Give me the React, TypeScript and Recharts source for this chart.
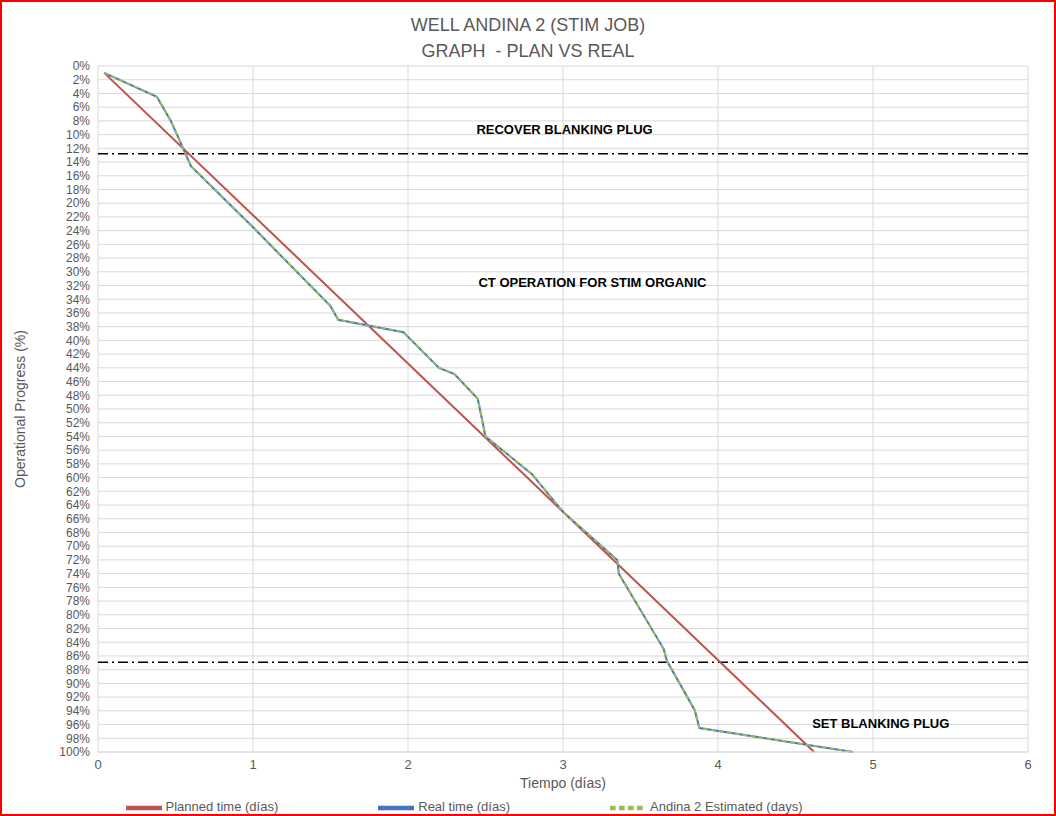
import React from 'react';
import { LineChart, Line, XAxis, YAxis, CartesianGrid, ReferenceLine, ReferenceDot, Legend } from 'recharts';

const plannedTime = [0.04, 4.62];
const plannedProgress = [1, 100];

const realTime = [0.04, 0.38, 0.47, 0.6, 1.0, 1.5, 1.55, 1.97, 2.2, 2.3, 2.45, 2.5, 2.8, 3.0, 3.35, 3.36, 3.65, 3.67, 3.85, 3.88, 4.87];
const realProgress = [1, 4.5, 8, 14.6, 23.5, 35, 37, 38.8, 44, 44.9, 48.5, 54, 59.5, 65, 72, 74, 85, 86.7, 93.9, 96.5, 100];

const yTicks = Array.from({ length: 51 }, (_, i) => i * 2);
const xTicks = [0, 1, 2, 3, 4, 5, 6];

const planned = plannedTime.map((t, i) => ({ t, v: plannedProgress[i] }));
const real = realTime.map((t, i) => ({ t, v: realProgress[i] }));

const font = '"Liberation Sans", Arial, sans-serif';

const noteLabel = (text: string) => ({
  value: text,
  position: 'center' as const,
  fill: '#000',
  fontSize: 13,
  fontWeight: 'bold',
});

export default function App() {
  return (
    <div style={{ position: 'absolute', left: 0, top: 0, width: 1056, height: 816, fontFamily: font, background: '#fff' }}>
      <div style={{ position: 'absolute', inset: 0, border: '2px solid #ff0000', boxSizing: 'border-box', pointerEvents: 'none', zIndex: 2 }} />
      <div style={{ position: 'absolute', top: 12, width: '100%', textAlign: 'center', color: '#595959', fontSize: 18, lineHeight: '26px' }}>
        WELL ANDINA 2 (STIM JOB)<br />GRAPH&nbsp; - PLAN VS REAL
      </div>
      <LineChart width={1056} height={816} margin={{ top: 66, right: 28, bottom: 0, left: 0 }} style={{ fontFamily: font }}>
        <CartesianGrid stroke="#d9d9d9" horizontalValues={yTicks} />
        <XAxis type="number" dataKey="t" domain={[0, 6]} ticks={xTicks} tick={{ fontSize: 13, fill: '#595959' }}
          axisLine={{ stroke: '#d9d9d9' }} tickLine={false} height={42}
          label={{ value: 'Tiempo (días)', position: 'insideTop', offset: 26, fontSize: 14, fill: '#595959' }} />
        <YAxis type="number" reversed domain={[0, 100]} ticks={yTicks} interval={0} width={98}
          tickFormatter={(v) => `${v}%`} tick={{ fontSize: 12, fill: '#595959' }} axisLine={false} tickLine={false}
          label={{ value: 'Operational Progress (%)', angle: -90, position: 'insideLeft', offset: 20, fontSize: 14, fill: '#595959', style: { textAnchor: 'middle' } }} />
        <ReferenceLine y={12.8} stroke="#000" strokeWidth={1.5} strokeDasharray="10 4 2 4" />
        <ReferenceLine y={86.9} stroke="#000" strokeWidth={1.5} strokeDasharray="10 4 2 4" />
        <ReferenceDot x={3.01} y={9.3} r={0} stroke="none" label={noteLabel('RECOVER BLANKING PLUG')} />
        <ReferenceDot x={3.19} y={31.5} r={0} stroke="none" label={noteLabel('CT OPERATION FOR STIM ORGANIC')} />
        <ReferenceDot x={5.05} y={95.8} r={0} stroke="none" label={noteLabel('SET BLANKING PLUG')} />
        <Line data={planned} dataKey="v" name="Planned time (días)" stroke="#c0504d" strokeWidth={2} dot={false} isAnimationActive={false} />
        <Line data={real} dataKey="v" name="Real time (días)" stroke="#4472c4" strokeWidth={2} dot={false} isAnimationActive={false} />
        <Line data={real} dataKey="v" name="Andina 2 Estimated (days)" stroke="#9bbb59" strokeWidth={2} strokeDasharray="5 3" dot={false} isAnimationActive={false} />
        <Legend verticalAlign="bottom" height={22} iconType="plainline" iconSize={36} itemSorter={null as any}
          wrapperStyle={{ fontSize: 13, color: '#595959', bottom: 4 }} formatter={(v) => <span style={{ color: '#595959', marginRight: 90 }}>{v}</span>} />
      </LineChart>
    </div>
  );
}
